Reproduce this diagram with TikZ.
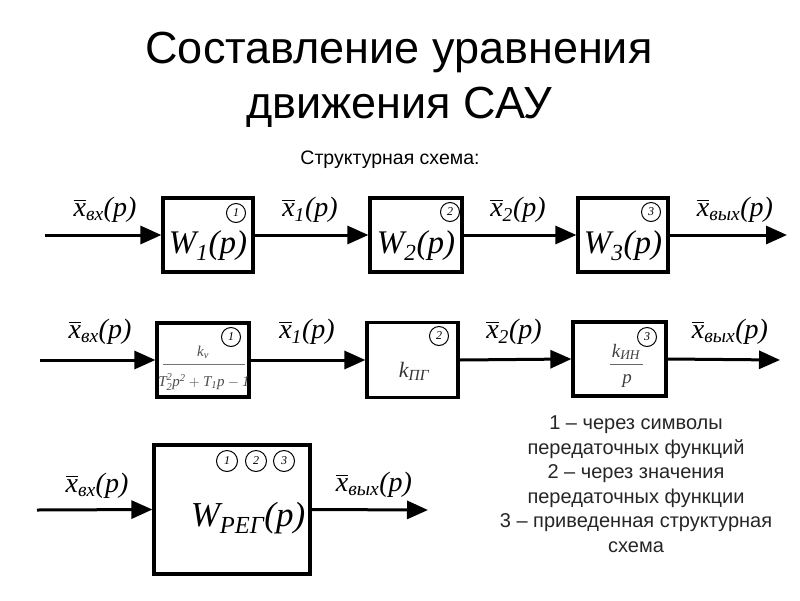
\documentclass[tikz,border=0pt]{standalone}
\usepackage{amsmath}
\usepackage{fontspec}
\setmainfont{Liberation Sans}
\newfontfamily\tms{Liberation Serif}
\usetikzlibrary{arrows.meta}
\newcommand\ti[1]{\text{\tms\itshape #1}}
\newcommand\xlab[1]{$\overline{\ti{x}}_{\ti{#1}}\ti{(p)}$}
\begin{document}
\begin{tikzpicture}[x=1pt,y=-1pt,
  box/.style={draw, line width=3.2pt, inner sep=0pt},
  arr/.style={line width=3pt, -{Triangle[length=21pt,width=18pt]}},
  circ/.style={circle, draw, line width=1pt, minimum size=19pt, inner sep=0pt, font=\fontsize{12}{12}\selectfont\tms\itshape},
  lab/.style={inner sep=0pt, font=\fontsize{28}{30}\selectfont},
  wlab/.style={inner sep=0pt, font=\fontsize{33}{35}\selectfont},
  title/.style={inner sep=0pt, font=\fontsize{45}{55}\selectfont, anchor=base},
  legend/.style={inner sep=0pt, font=\fontsize{20}{24.5}\selectfont, align=center, text=black!85}]
\useasboundingbox (0,0) rectangle (800,600);
\fill[white] (0,0) rectangle (800,600);
% title
\node[title] (t1) at (399,63) {Составление уравнения};
\node[title] (t2) at (399,118) {движения САУ};
\node[inner sep=0pt, font=\fontsize{19.5}{21}\selectfont] (sub) at (390,160) {Структурная схема:};
% ---------- row 1
\node[box, minimum width=90pt, minimum height=74pt] (a1) at (208,235) {};
\node[box, minimum width=92pt, minimum height=74pt] (a2) at (416,235) {};
\node[box, minimum width=90pt, minimum height=74pt] (a3) at (623,235) {};
\coordinate (ain) at (45,235);
\coordinate (aout) at (787,235);
\draw[arr] (ain) -- (a1.west);
\draw[arr] (a1.east) -- (a2.west);
\draw[arr] (a2.east) -- (a3.west);
\draw[arr] (a3.east) -- (aout);
\node[wlab] (aw1) at (208,246) {$\ti{W}_{\ti{1}}\ti{(p)}$};
\node[wlab] (aw2) at (416,246) {$\ti{W}_{\ti{2}}\ti{(p)}$};
\node[wlab] (aw3) at (623,246) {$\ti{W}_{\ti{3}}\ti{(p)}$};
\node[circ] (ac1) at (236,213) {1};
\node[circ] (ac2) at (450,212) {2};
\node[circ] (ac3) at (651,212) {3};
\node[lab] (ax0) at (105,210) {\xlab{вх}};
\node[lab] (ax1) at (310,210) {\xlab{1}};
\node[lab] (ax2) at (518,210) {\xlab{2}};
\node[lab] (ax3) at (735,210) {\xlab{вых}};
% ---------- row 2
\node[box, minimum width=92pt, minimum height=74pt] (b1) at (203,360) {};
\node[box, minimum width=91pt, minimum height=75pt] (b2) at (412.5,360) {};
\node[box, minimum width=93pt, minimum height=74pt] (b3) at (619.5,359) {};
\coordinate (bin) at (40,360);
\coordinate (bout) at (780,360);
\draw[arr] (bin) -- (b1.west);
\draw[arr] (b1.east) -- (b2.west);
\draw[arr] (b2.east) -- (b3.west);
\draw[arr] (b3.east) -- (bout);
\node[circ] (bc1) at (231,337) {1};
\node[circ] (bc2) at (439,336) {2};
\node[circ] (bc3) at (647,337) {3};
\node[lab] (bx0) at (100,332) {\xlab{вх}};
\node[lab] (bx1) at (307,332) {\xlab{1}};
\node[lab] (bx2) at (514,332) {\xlab{2}};
\node[lab] (bx3) at (730,332) {\xlab{вых}};
% fraction 1
\node[inner sep=0pt, text=black!70, font=\fontsize{15}{16}\selectfont] (bn1) at (203,352) {$\ti{k}_{\ti{v}}$};
\coordinate (bl1a) at (163,364);
\coordinate (bl1b) at (245,364);
\draw[black!55, line width=1pt] (bl1a) -- (bl1b);
\node[inner sep=0pt, text=black!70, font=\fontsize{15}{16}\selectfont] (bd1) at (204,382) {$\ti{T}_{\ti{2}}^{\ti{2}}\ti{p}^{\ti{2}}+\ti{T}_{\ti{1}}\ti{p}-\ti{1}$};
% k_PG
\node[inner sep=0pt, text=black!80, font=\fontsize{22}{24}\selectfont] (bk2) at (414,371) {$\ti{k}_{\ti{ПГ}}$};
% fraction 3
\node[inner sep=0pt, text=black!75, font=\fontsize{19}{20}\selectfont] (bn3) at (626,352) {$\ti{k}_{\ti{ИН}}$};
\coordinate (bl3a) at (610,364);
\coordinate (bl3b) at (643,364);
\draw[black!60, line width=1pt] (bl3a) -- (bl3b);
\node[inner sep=0pt, text=black!75, font=\fontsize{19}{20}\selectfont] (bd3) at (627,381) {$\ti{p}$};
% ---------- row 3
\node[box, minimum width=156pt, minimum height=129pt] (c1) at (232,509.5) {};
\coordinate (cin) at (37,510);
\coordinate (cout) at (428,510);
\draw[arr] (cin) -- (c1.west);
\draw[arr] (c1.east) -- (cout);
\node[circ, minimum size=21pt] (cc1) at (227,461) {1};
\node[circ, minimum size=21pt] (cc2) at (256,461) {2};
\node[circ, minimum size=21pt] (cc3) at (284,461) {3};
\node[inner sep=0pt, font=\fontsize{35}{37}\selectfont] (cw) at (248,518) {$\ti{W}_{\ti{РЕГ}}\ti{(p)}$};
\node[lab] (cx0) at (97,486) {\xlab{вх}};
\node[lab] (cx1) at (374,485) {\xlab{вых}};
% legend
\node[legend] (leg) at (636,484) {1 -- через символы\\передаточных функций\\2 -- через значения\\передаточных функции\\3 -- приведенная структурная\\схема};
\end{tikzpicture}
\end{document}
